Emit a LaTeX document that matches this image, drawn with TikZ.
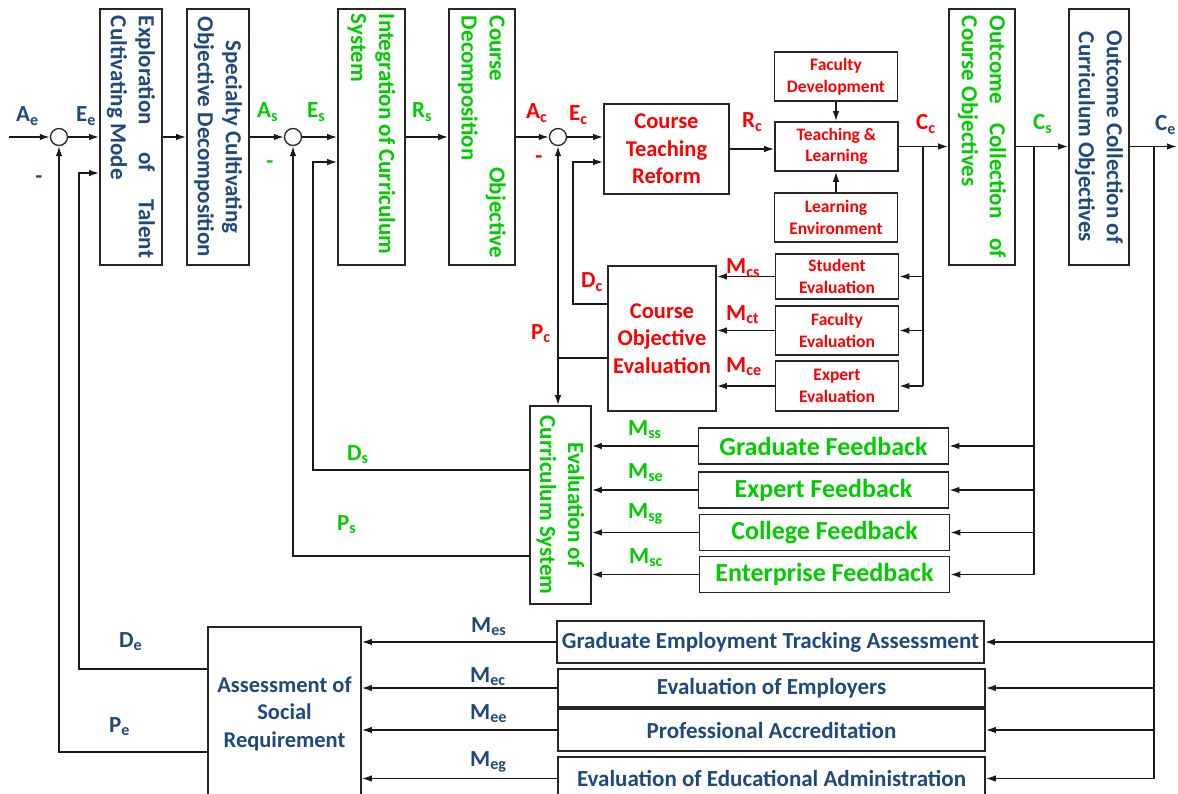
\documentclass[tikz,border=0pt]{standalone}
\usepackage{fontspec}
\setmainfont{Carlito}
\usetikzlibrary{arrows.meta}
\definecolor{navy}{HTML}{1F497D}
\definecolor{grn}{HTML}{00CC00}
\definecolor{rd}{HTML}{FF0000}
\newcommand{\vtext}[2]{\rotatebox{-90}{\parbox{#1}{#2}}}
\newcommand{\sublab}[2]{#1\textsubscript{#2}}

\begin{document}
\begin{tikzpicture}[x=1pt,y=-1pt,
		box/.style={draw=black!85,line width=1.6pt,inner sep=2pt},
		vbox/.style={box,minimum height=256pt,font=\bfseries\fontsize{23}{28}\selectfont},
		hbox/.style={box,align=center,font=\bfseries\fontsize{22.5}{27.5}\selectfont},
		small/.style={box,align=center,text=rd,minimum width=123pt,font=\bfseries\fontsize{17.5}{21.5}\selectfont},
		fb/.style={box,text=grn,minimum width=250pt,minimum height=36pt,font=\bfseries\fontsize{26}{26}\selectfont},
		req/.style={box,text=navy,minimum width=427pt,font=\bfseries\fontsize{23}{23}\selectfont},
		sum/.style={circle,draw=black!85,line width=1.3pt,minimum size=17pt,inner sep=0pt},
		lab/.style={anchor=base west,inner sep=0pt,font=\bfseries\fontsize{23}{23}\selectfont},
		link/.style={line width=1.5pt,draw=black!90},
		>={Latex[length=10pt,width=6.5pt]}]
	\useasboundingbox (0,0) rectangle (1178,794);

	\node[sum] (s1) at (59,137) {};
	\node[sum] (s2) at (293,137) {};
	\node[sum] (s3) at (558,137) {};

	\node[vbox,minimum width=62pt,text=navy] (explore) at (131,137) {\vtext{242pt}{Exploration\hfill of\hfill Talent\\Cultivating Mode}};
	\node[vbox,minimum width=62pt,text=navy] (specialty) at (218,137) {\vtext{242pt}{\centering Specialty Cultivating\\Objective Decomposition}};
	\node[vbox,minimum width=67pt,text=grn] (integrate) at (371.5,137) {\vtext{246pt}{\raggedright Integration of Curriculum\\System}};
	\node[vbox,minimum width=66pt,text=grn] (coursedec) at (482,137) {\vtext{242pt}{Course\hfill Objective\\Decomposition}};
	\node[vbox,minimum width=66pt,text=grn] (outcourse) at (982,137) {\vtext{242pt}{Outcome\hfill Collection\hfill of\\Course Objectives}};
	\node[vbox,minimum width=60pt,text=navy] (outcurr) at (1099,137) {\vtext{242pt}{\centering Outcome Collection of\\Curriculum Objectives}};

	\node[hbox,text=rd,minimum width=125pt,minimum height=90pt] (reform) at (666.5,149) {Course\\Teaching\\Reform};
	\node[small,minimum height=49pt] (facdev) at (836,76.5) {Faculty\\Development};
	\node[small,minimum height=49pt] (teach) at (836.5,146.5) {Teaching \&\\Learning};
	\node[small,minimum height=49pt] (learnenv) at (836,217.5) {Learning\\Environment};

	\node[small,minimum height=45pt] (stueval) at (837,276.5) {Student\\Evaluation};
	\node[small,minimum height=49pt] (faceval) at (837,330.5) {Faculty\\Evaluation};
	\node[small,minimum height=50pt] (expeval) at (837,386) {Expert\\Evaluation};
	\node[hbox,text=rd,minimum width=108pt,minimum height=145pt] (coeval) at (662,338.5) {Course\\Objective\\Evaluation};

	\node[vbox,minimum width=61pt,minimum height=198pt,text=grn] (cseval) at (560.5,505) {\vtext{184pt}{\centering Evaluation of\\Curriculum System}};
	\node[fb] (gradfb) at (823.5,446) {Graduate Feedback};
	\node[fb] (expfb) at (823.5,490) {Expert Feedback};
	\node[fb] (collfb) at (824.5,532.5) {College Feedback};
	\node[fb] (entfb) at (824.5,574.5) {Enterprise Feedback};

	\node[hbox,text=navy,minimum width=153pt,minimum height=173pt] (social) at (284.5,713.5) {Assessment of\\Social\\Requirement};
	\node[req,minimum height=42pt] (grademp) at (770.5,642) {Graduate Employment Tracking Assessment};
	\node[req,minimum height=38pt] (employer) at (771.5,688) {Evaluation of Employers};
	\node[req,minimum height=42pt] (accredit) at (771.5,730) {Professional Accreditation};
	\node[req,minimum height=43pt] (adminev) at (771.5,778.5) {Evaluation of Educational Administration};

	\coordinate (in) at (9,137);
	\coordinate (out) at (1177,146.5);
	\draw[link,->] (in) -- (s1);
	\draw[link,->] (s1) -- (explore);
	\draw[link,->] (explore) -- (specialty);
	\draw[link,->] (specialty) -- (s2);
	\draw[link,->] (s2) -- (integrate);
	\draw[link,->] (integrate) -- (coursedec);
	\draw[link,->] (coursedec) -- (s3);
	\draw[link,->] (s3) -- (s3 -| reform.west);
	\draw[link,->] (reform) -- (reform -| teach.west);
	\draw[link,->] (facdev.south) -- (facdev.south |- teach.north);
	\draw[link,->] (learnenv.north) -- (learnenv.north |- teach.south);
	\draw[link,->] (teach) -- (teach -| outcourse.west);
	\draw[link,->] (teach -| outcourse.east) -- (teach -| outcurr.west);
	\draw[link,->] (teach -| outcurr.east) -- (out);

	\coordinate (cc) at (923,146.5);
	\draw[link] (cc) -- (cc |- expeval);
	\draw[link,->] (cc |- stueval) -- (stueval);
	\draw[link,->] (cc |- faceval) -- (faceval);
	\draw[link,->] (cc |- expeval) -- (expeval);
	\draw[link,->] (stueval) -- (stueval -| coeval.east);
	\draw[link,->] (faceval) -- (faceval -| coeval.east);
	\draw[link,->] (expeval) -- (expeval -| coeval.east);
	\coordinate (dc) at (573,304);
	\draw[link,->] (coeval.west |- dc) -- (dc) |- ([yshift=-13pt]reform.west);
	\coordinate (pc) at (558,358);
	\draw[link] (coeval.west |- pc) -- (pc);
	\draw[link,->] (pc) -- (s3);
	\draw[link,->] (pc) -- (pc |- cseval.north);

	\coordinate (cs) at (1034,146.5);
	\draw[link] (cs) -- (cs |- entfb);
	\draw[link,->] (cs |- gradfb) -- (gradfb);
	\draw[link,->] (cs |- expfb) -- (expfb);
	\draw[link,->] (cs |- collfb) -- (collfb);
	\draw[link,->] (cs |- entfb) -- (entfb);
	\draw[link,->] (gradfb) -- (gradfb -| cseval.east);
	\draw[link,->] (expfb) -- (expfb -| cseval.east);
	\draw[link,->] (collfb) -- (collfb -| cseval.east);
	\draw[link,->] (entfb) -- (entfb -| cseval.east);
	\coordinate (ds) at (313,470);
	\draw[link,->] (cseval.west |- ds) -- (ds) |- ([yshift=-25pt]integrate.west);
	\coordinate (ps) at (293,556);
	\draw[link,->] (cseval.west |- ps) -- (ps) -- (s2);

	\coordinate (ce) at (1154,146.5);
	\draw[link] (ce) -- (ce |- adminev);
	\draw[link,->] (ce |- grademp) -- (grademp);
	\draw[link,->] (ce |- employer) -- (employer);
	\draw[link,->] (ce |- accredit) -- (accredit);
	\draw[link,->] (ce |- adminev) -- (adminev);
	\draw[link,->] (grademp) -- (grademp -| social.east);
	\draw[link,->] (employer) -- (employer -| social.east);
	\draw[link,->] (accredit) -- (accredit -| social.east);
	\draw[link,->] (adminev) -- (adminev -| social.east);
	\coordinate (de) at (79,669);
	\draw[link,->] (social.west |- de) -- (de) |- ([yshift=-36pt]explore.west);
	\coordinate (pe) at (59,752);
	\draw[link,->] (social.west |- pe) -- (pe) -- (s1);

	\node[lab,text=navy] at (16,122) {\sublab{A}{e}};
	\node[lab,text=navy] at (76,122) {\sublab{E}{e}};
	\node[lab,text=navy,anchor=center] at (39,180) {-};
	\node[lab,text=grn] at (257,118) {\sublab{A}{s}};
	\node[lab,text=grn] at (307,118) {\sublab{E}{s}};
	\node[lab,text=grn,anchor=center] at (270,165) {-};
	\node[lab,text=grn] at (412,118) {\sublab{R}{s}};
	\node[lab,text=rd] at (526,119) {\sublab{A}{c}};
	\node[lab,text=rd] at (569,121) {\sublab{E}{c}};
	\node[lab,text=rd,anchor=center] at (539,160) {-};
	\node[lab,text=rd] at (742,128) {\sublab{R}{c}};
	\node[lab,text=rd] at (916,130) {\sublab{C}{c}};
	\node[lab,text=grn] at (1033,130) {\sublab{C}{s}};
	\node[lab,text=navy] at (1155,131) {\sublab{C}{e}};

	\node[lab,text=rd] at (726,274) {\sublab{M}{cs}};
	\node[lab,text=rd] at (726,320) {\sublab{M}{ct}};
	\node[lab,text=rd] at (726,372) {\sublab{M}{ce}};
	\node[lab,text=rd] at (581,288) {\sublab{D}{c}};
	\node[lab,text=rd] at (531,339) {\sublab{P}{c}};

	\node[lab,text=grn] at (628,435) {\sublab{M}{ss}};
	\node[lab,text=grn] at (628,478) {\sublab{M}{se}};
	\node[lab,text=grn] at (628,518) {\sublab{M}{sg}};
	\node[lab,text=grn] at (629,563) {\sublab{M}{sc}};
	\node[lab,text=grn] at (347,460) {\sublab{D}{s}};
	\node[lab,text=grn] at (337,530) {\sublab{P}{s}};

	\node[lab,text=navy] at (471,632) {\sublab{M}{es}};
	\node[lab,text=navy] at (470,682) {\sublab{M}{ec}};
	\node[lab,text=navy] at (470,719) {\sublab{M}{ee}};
	\node[lab,text=navy] at (470,766) {\sublab{M}{eg}};
	\node[lab,text=navy] at (119,647) {\sublab{D}{e}};
	\node[lab,text=navy] at (109,732) {\sublab{P}{e}};
\end{tikzpicture}
\end{document}
